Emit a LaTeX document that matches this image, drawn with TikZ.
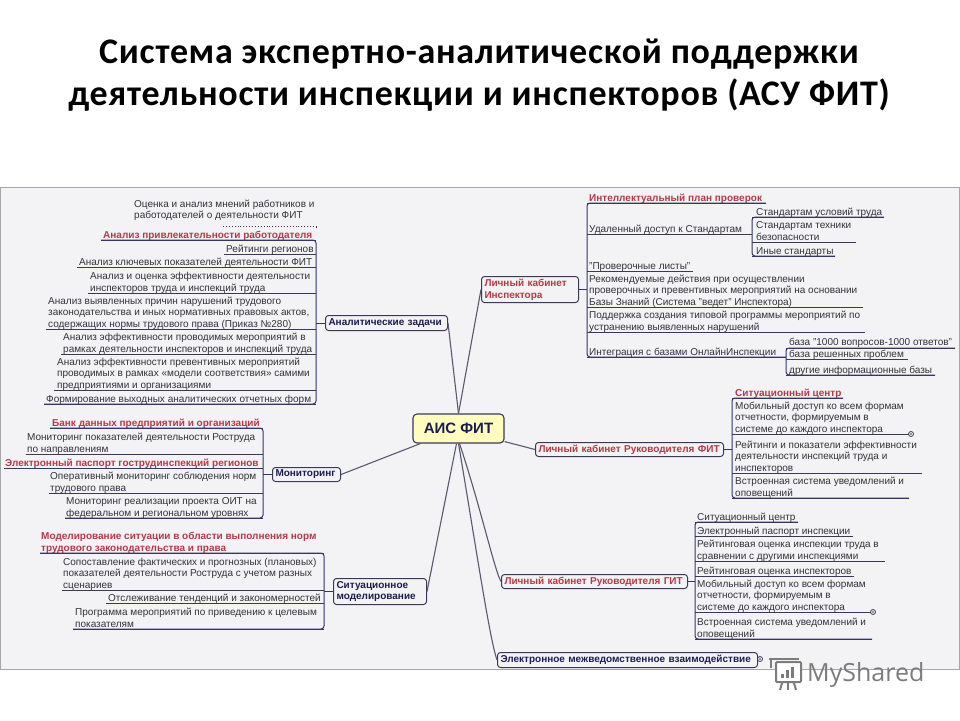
\documentclass[tikz,border=0pt]{standalone}
\usepackage{fontspec}
\setmainfont{Liberation Sans}
\newfontfamily\titlefont[LetterSpace=2.0]{Carlito}
\newfontfamily\markfont{Open Sans}
\usetikzlibrary{calc}
\definecolor{inkc}{HTML}{333338}
\definecolor{redc}{HTML}{B23A48}
\definecolor{navyc}{HTML}{1C1C50}
\definecolor{linec}{HTML}{3A3A58}
\definecolor{spinec}{HTML}{34346A}
\definecolor{panelc}{HTML}{F3F3F5}
\definecolor{markc}{HTML}{7C7C7C}
\tikzset{
  x=1pt,y=-1pt,
  leaftext/.style={anchor=south west,inner xsep=0pt,inner ysep=0pt,align=left,text depth=0pt,text=inkc,
    font=\fontsize{10}{11.3}\selectfont},
  redtext/.style={leaftext,text=redc,font=\fontsize{10}{11.3}\selectfont\bfseries},
  ul/.style={draw=linec,line width=0.9pt},
  brace/.style={draw=spinec,line width=1pt,rounded corners=3pt},
  tick/.style={draw=spinec,line width=1pt},
  topic/.style={draw=linec,line width=1pt,fill=panelc,rounded corners=3pt,inner sep=0pt,text=navyc,align=left,
    font=\fontsize{10}{11.8}\selectfont\bfseries},
  redtopic/.style={topic,text=redc},
  link/.style={draw=linec!85!white,line width=1.1pt},
  knob/.style={circle,draw=linec,line width=0.8pt,fill=panelc,minimum size=5pt,inner sep=0pt},
}
% \leaf{name}{text x}{underline x1}{underline x2}{underline y}{style}{text}
\newcommand{\leaf}[7]{%
  \coordinate (#1-a) at (#3,#5);
  \coordinate (#1-b) at (#4,#5);
  \node[#6] (#1) at (#2,#5-1.8) {#7};
  \draw[ul] (#1-a) -- (#1-b);
}
% \topicbox{name}{x1}{y1}{x2}{y2}{style}{text}
\newcommand{\topicbox}[7]{%
  \node[#6,minimum width=#4-#2,minimum height=#5-#3,anchor=north west,text width=#4-#2-6,inner xsep=3pt] (#1) at (#2,#3) {#7};
}
\begin{document}
\begin{tikzpicture}
\useasboundingbox (0,0) rectangle (960,720);
\fill[white] (0,0) rectangle (960,720);
\node[coordinate] (panelA) at (0.5,187) {};
\node[coordinate] (panelB) at (959.5,669) {};
\draw[draw=gray!70,fill=panelc,line width=1pt] (panelA) rectangle (panelB);

% title
\node[font=\titlefont\fontsize{36}{42}\selectfont\bfseries,text=black,align=center] (title) at (479,75)
 {Система экспертно-аналитической поддержки\\деятельности инспекции и инспекторов (АСУ ФИТ)};

% centre and topics
\node[draw=linec,line width=1.1pt,fill=yellow!25!white,rounded corners=4pt,minimum width=91pt,minimum height=29pt,inner sep=0pt,
  text=navyc,font=\fontsize{15}{16}\selectfont\bfseries] (ais) at (458.5,428.5) {АИС ФИТ};
\topicbox{ana}{325}{315}{447}{330}{topic}{Аналитические задачи}
\topicbox{mon}{272}{467}{340}{481}{topic}{Мониторинг}
\topicbox{sit}{333}{578}{426}{604}{topic}{Ситуационное\\моделирование}
\topicbox{insp}{481}{276}{578}{302}{redtopic}{Личный кабинет\\Инспектора}
\topicbox{fit}{535}{442}{723}{456}{redtopic}{Личный кабинет Руководителя ФИТ}
\topicbox{git}{501}{574}{687}{588}{redtopic}{Личный кабинет Руководителя ГИТ}
\topicbox{emv}{497}{652}{757}{667}{topic}{Электронное межведомственное взаимодействие}

\draw[link] (ana.east) -- (ais.north);
\draw[link] (insp.west) -- (ais.north);
\draw[link] (mon.east) -- ($(ais.south west)+(8,0)$);
\draw[link] (sit.east) -- ($(ais.south)+(-2,0)$);
\draw[link] (fit.west) -- ($(ais.south east)+(0,-2)$);
\draw[link] (git.west) .. controls (495,572) and (480,505) .. ($(ais.south)+(1,0)$);
\draw[link] (emv.west) .. controls (490,640) and (478,560) .. (ais.south);

% analytic tasks
\node[leaftext,anchor=north west] (a0t) at (134,199.5) {Оценка и анализ мнений работников и\\работодателей о деятельности ФИТ};
\coordinate (a0-a) at (223,226.5);
\coordinate (a0-b) at (316,226.5);
\draw[ul,dotted] (a0-a) -- (a0-b);
\draw[brace,dotted] (a0-b) -- +(0,3);
\leaf{a1}{103}{101}{316}{240}{redtext}{Анализ привлекательности работодателя}
\leaf{a2}{226}{224}{316}{254}{leaftext}{Рейтинги регионов}
\leaf{a3}{79}{77}{316}{267}{leaftext}{Анализ ключевых показателей деятельности ФИТ}
\leaf{a4}{90}{88}{316}{293}{leaftext}{Анализ и оценка эффективности деятельности\\инспекторов труда и инспекций труда}
\leaf{a5}{48}{46}{316}{329}{leaftext}{Анализ выявленных причин нарушений трудового\\законодательства и иных нормативных правовых актов,\\содержащих нормы трудового права (Приказ №280)}
\leaf{a6}{63}{61}{316}{354}{leaftext}{Анализ эффективности проводимых мероприятий в\\рамках деятельности инспекторов и инспекций труда}
\leaf{a7}{57}{54}{316}{390}{leaftext}{Анализ эффективности превентивных мероприятий\\проводимых в рамках «модели соответствия» самими\\предприятиями и организациями}
\leaf{a8}{46}{44}{316}{404}{leaftext}{Формирование выходных аналитических отчетных форм}
\draw[brace] (a1-a) -- (a1-b) -- (a8-b) -- (a8-a);
\draw[tick] (ana.west) -- (ana.west -| a8-b);

% monitoring
\leaf{m1}{52}{50}{263}{428}{redtext}{Банк данных предприятий и организаций}
\leaf{m2}{27}{26}{263}{454}{leaftext}{Мониторинг показателей деятельности Роструда\\по направлениям}
\leaf{m3}{5}{4}{263}{468}{redtext}{Электронный паспорт гострудинспекций регионов}
\leaf{m4}{50}{49}{263}{493}{leaftext}{Оперативный мониторинг соблюдения норм\\трудового права}
\leaf{m5}{66}{65}{263}{518}{leaftext}{Мониторинг реализации проекта ОИТ на\\федеральном и региональном уровнях}
\draw[brace] (m1-a) -- (m1-b) -- (m5-b) -- (m5-a);
\draw[tick] (mon.west) -- (mon.west -| m5-b);

% modelling
\leaf{s1}{41}{40}{324}{553}{redtext}{Моделирование ситуации в области выполнения норм\\трудового законодательства и права}
\leaf{s2}{63}{62}{324}{590}{leaftext}{Сопоставление фактических и прогнозных (плановых)\\показателей  деятельности Роструда с учетом разных\\сценариев}
\leaf{s3}{108}{106}{324}{603}{leaftext}{Отслеживание тенденций и закономерностей}
\leaf{s4}{75}{73}{324}{629}{leaftext}{Программа мероприятий по приведению к целевым\\показателям}
\draw[brace] (s1-a) -- (s1-b) -- (s4-b) -- (s4-a);
\draw[tick] (sit.west) -- (sit.west -| s4-b);

% inspector
\leaf{i1}{589}{587}{766}{203}{redtext}{Интеллектуальный план проверок}
\leaf{i2}{589}{587}{752}{234}{leaftext}{Удаленный доступ к Стандартам}
\leaf{i3}{589}{587}{693}{271}{leaftext}{"Проверочные листы"}
\leaf{i4}{589}{587}{863}{307}{leaftext}{Рекомендуемые действия при осуществлении\\проверочных и превентивных мероприятий на основании\\Базы Знаний (Система "ведет" Инспектора)}
\leaf{i5}{589}{587}{865}{332}{leaftext}{Поддержка создания типовой программы мероприятий по\\устранению выявленных нарушений}
\leaf{i6}{589}{587}{786}{357}{leaftext}{Интеграция с базами ОнлайнИнспекции}
\draw[brace] (i1-b) -- (i1-a) -- (i6-a) -- (i6-b);
\draw[tick] (insp.east) -- (insp.east -| i6-a);
\leaf{j1}{756}{752}{884}{217}{leaftext}{Стандартам условий труда}
\leaf{j2}{756}{752}{856}{242}{leaftext}{Стандартам техники\\безопасности}
\leaf{j3}{756}{752}{835}{256}{leaftext}{Иные стандарты}
\draw[brace] (j1-b) -- (j1-a) -- (j3-a) -- (j3-b);
\leaf{k1}{789}{786}{955}{348}{leaftext,yshift=1pt}{база "1000 вопросов-1000 ответов"}
\leaf{k2}{789}{786}{908}{359}{leaftext}{база решенных проблем}
\leaf{k3}{789}{786}{935}{375}{leaftext}{другие информационные базы}
\draw[brace] (k1-b) -- (k1-a) -- (k3-a) -- (k3-b);

% FIT head
\leaf{f1}{735}{732}{843}{398}{redtext}{Ситуационный центр}
\leaf{f2}{735}{732}{909}{434}{leaftext}{Мобильный доступ ко всем формам\\отчетности, формируемым в\\системе до каждого инспектора}
\leaf{f3}{735}{732}{922}{473}{leaftext}{Рейтинги и показатели эффективности\\деятельности инспекций труда и\\инспекторов}
\leaf{f4}{735}{732}{909}{498}{leaftext}{Встроенная система уведомлений и\\оповещений}
\draw[brace] (f1-b) -- (f1-a) -- (f4-a) -- (f4-b);
\draw[tick] (fit.east) -- (fit.east -| f4-a);
\node[knob] (fk) at (911,434) {};
\fill[linec] (fk.center) circle (0.9pt);

% GIT head
\leaf{g1}{697}{695}{798}{522}{leaftext}{Ситуационный центр}
\leaf{g2}{697}{695}{853}{536}{leaftext}{Электронный паспорт инспекции}
\leaf{g3}{697}{695}{885}{561}{leaftext}{Рейтинговая оценка инспекции труда в\\сравнении с другими инспекциями}
\leaf{g4}{697}{695}{854}{576}{leaftext}{Рейтинговая оценка инспекторов}
\leaf{g5}{697}{695}{871}{612}{leaftext}{Мобильный доступ ко всем формам\\отчетности, формируемым в\\системе до каждого инспектора}
\leaf{g6}{697}{695}{872}{639}{leaftext}{Встроенная система уведомлений и\\оповещений}
\draw[brace] (g1-b) -- (g1-a) -- (g6-a) -- (g6-b);
\draw[tick] (git.east) -- (git.east -| g6-a);
\node[knob] (gk) at (873,612) {};
\fill[linec] (gk.center) circle (0.9pt);

\node[knob] (ek) at (760,659) {};
\fill[linec] (ek.center) circle (0.9pt);

% watermark
\fill[white] (764,671) rectangle (926,693);
\begin{scope}[draw=markc,line width=2pt]
  \draw[fill=white,rounded corners=1pt] (776,662) rectangle (801,682);
  \draw (769,659) -- (799,659);
  \draw (771,660) -- (771,668);
  \draw (782,683) -- (780,690);
  \draw (788,683) -- (788,690);
  \draw (794,683) -- (796,690);
\end{scope}
\fill[markc] (781,674) rectangle (784,678);
\fill[markc] (786,670) rectangle (789,678);
\fill[markc] (791,667) rectangle (794,678);
\node[anchor=west,inner sep=0pt,text=markc,font=\markfont\fontsize{25}{27}\selectfont] (brand) at (807,675) {MyShared};
\end{tikzpicture}
\end{document}
